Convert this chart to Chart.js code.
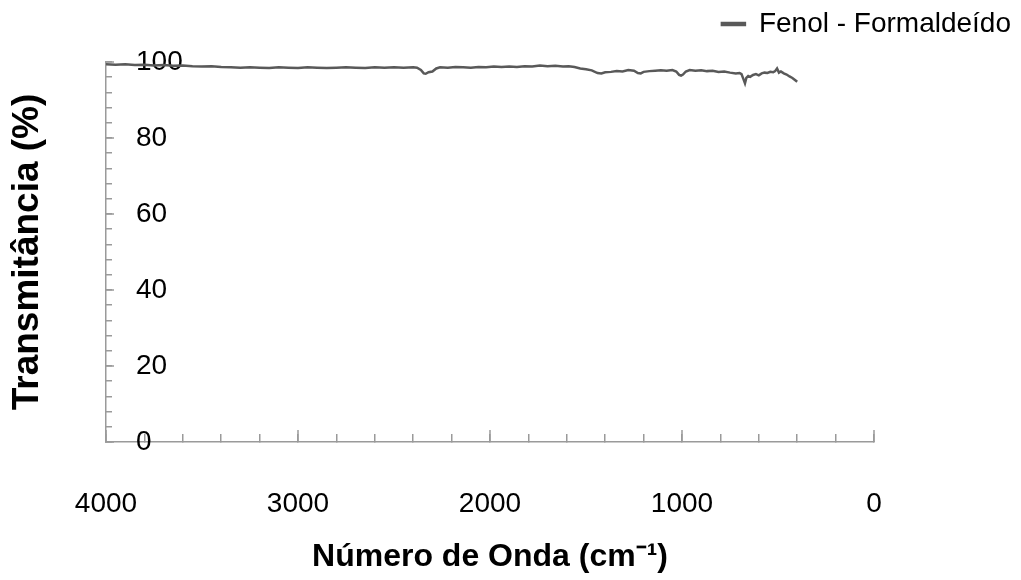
<!DOCTYPE html>
<html><head><meta charset="utf-8">
<script src="https://cdn.jsdelivr.net/npm/chart.js@4"></script>
<style>html,body{margin:0;padding:0;background:#fff}</style>
</head><body>
<canvas id="c" width="1021" height="580"></canvas>
<script>
const seriesLabel = 'Fenol - Formaldeído';
const wavenumbers = [4000, 3950, 3900, 3850, 3800, 3750, 3700, 3650, 3600, 3550,
 3500, 3450, 3400, 3350, 3300, 3250, 3200, 3150, 3100, 3050,
 3000, 2950, 2900, 2850, 2800, 2750, 2700, 2650, 2600, 2550,
 2500, 2450, 2400, 2380, 2360, 2345, 2335, 2320, 2300, 2280,
 2260, 2220, 2180, 2140, 2100, 2060, 2020, 1980, 1940, 1900,
 1860, 1820, 1780, 1740, 1700, 1660, 1620, 1590, 1560, 1530,
 1500, 1470, 1440, 1420, 1400, 1370, 1340, 1310, 1280, 1250,
 1230, 1215, 1200, 1170, 1140, 1110, 1080, 1050, 1030, 1015,
 1005, 995, 980, 960, 930, 900, 870, 840, 810, 780,
 750, 720, 700, 690, 680, 672, 665, 655, 645, 630,
 615, 600, 585, 570, 555, 540, 525, 515, 505, 495,
 485, 470, 455, 440, 425, 410, 400];
const transmittance = [99.4, 99.3, 99.4, 99.2, 99.3, 99.1, 99.2, 99.0, 99.1, 98.9,
 98.8, 98.9, 98.7, 98.6, 98.5, 98.6, 98.5, 98.4, 98.6, 98.5,
 98.4, 98.6, 98.5, 98.4, 98.5, 98.6, 98.5, 98.4, 98.6, 98.5,
 98.6, 98.5, 98.6, 98.5, 97.9, 97.0, 96.9, 97.3, 97.5, 98.3,
 98.6, 98.5, 98.7, 98.6, 98.5, 98.7, 98.6, 98.8, 98.7, 98.8,
 98.7, 98.9, 98.8, 99.1, 98.9, 99.0, 98.8, 98.9, 98.7, 98.3,
 98.1, 97.8, 97.1, 97.0, 97.3, 97.4, 97.6, 97.5, 97.9, 97.7,
 97.1, 97.0, 97.4, 97.6, 97.7, 97.8, 97.7, 97.9, 97.5, 96.6,
 96.4, 96.7, 97.5, 97.9, 97.7, 97.8, 97.6, 97.7, 97.4, 97.5,
 97.2, 97.0, 97.1, 96.8, 95.5, 94.4, 95.8, 96.3, 96.1, 96.6,
 96.8, 96.5, 97.0, 97.2, 97.1, 97.4, 97.3, 97.6, 98.3, 97.2,
 97.5, 97.0, 96.7, 96.2, 95.8, 95.2, 94.8];
const xTickLabels = [4000, 3000, 2000, 1000, 0];
const yTickLabels = [0, 20, 40, 60, 80, 100];
const xTitle = 'Número de Onda (cm⁻¹)';
const yTitle = 'Transmitância (%)';

const FONT = "'Liberation Sans', Arial, sans-serif";
const AXIS = '#9a9a9a';

const majorTicks = {
  id: 'majorTicks',
  beforeLayout(chart) {
    const lg = chart.legend;
    if (lg && !lg._fixedH) {
      const f = lg.fit;
      lg.fit = function () { f.call(this); this.height = 62; };
      lg._fixedH = true;
    }
  },
  afterDraw(chart) {
    const c = chart.ctx, a = chart.chartArea;
    const xs = chart.scales.x, ys = chart.scales.y;
    c.save();
    c.strokeStyle = AXIS; c.lineWidth = 1.5;
    c.beginPath();
    xTickLabels.forEach(v => { const p = xs.getPixelForValue(v); c.moveTo(p, a.bottom); c.lineTo(p, a.bottom - 12); });
    yTickLabels.forEach(v => { const p = ys.getPixelForValue(v); c.moveTo(a.left, p); c.lineTo(a.left + 8, p); });
    c.stroke();
    c.restore();
  }
};

new Chart(document.getElementById('c'), {
  type: 'line',
  data: {
    datasets: [{
      label: seriesLabel,
      data: wavenumbers.map((w, i) => ({x: w, y: transmittance[i]})),
      borderColor: '#595959', backgroundColor: '#6a6a6a',
      borderWidth: 2.5, pointRadius: 0, tension: 0, fill: false
    }]
  },
  options: {
    responsive: false, animation: false,
    layout: {padding: 0},
    plugins: {
      legend: {
        position: 'top', align: 'end',
        labels: {boxWidth: 23, boxHeight: 2, padding: 10, color: '#000', font: {family: FONT, size: 28}}
      },
      tooltip: {enabled: false}
    },
    scales: {
      x: {
        type: 'linear', reverse: true, min: 0, max: 4000,
        grid: {drawOnChartArea: false, drawTicks: true, tickLength: -8, color: AXIS, lineWidth: 1.5},
        border: {color: AXIS, width: 1.5},
        ticks: {stepSize: 200, maxTicksLimit: 100, autoSkip: false, maxRotation: 0, padding: 53, color: '#000',
          font: {family: FONT, size: 28},
          callback: v => xTickLabels.includes(v) ? String(v) : ''},
        title: {display: true, text: xTitle, color: '#000', font: {family: FONT, size: 32, weight: 'bold'}, padding: {top: 0, bottom: 4}},
        afterFit(s) { s.height = 138; s.paddingRight = 147; s.paddingLeft = 0; }
      },
      y: {
        min: 0, max: 100,
        grid: {drawOnChartArea: false, drawTicks: true, tickLength: -6, color: AXIS, lineWidth: 1.5},
        border: {color: AXIS, width: 1.5},
        ticks: {stepSize: 4, maxTicksLimit: 100, autoSkip: false, mirror: true, crossAlign: 'near', padding: 30, color: '#000',
          font: {family: FONT, size: 28},
          callback: v => yTickLabels.includes(v) ? String(v) : ''},
        title: {display: true, text: yTitle, color: '#000', font: {family: FONT, size: 37, weight: 'bold'}, padding: {top: 6, bottom: 0}},
        afterFit(s) { s.width = 106; s.paddingTop = 62; s.paddingBottom = 0; }
      }
    }
  },
  plugins: [majorTicks]
});
</script>
</body></html>
